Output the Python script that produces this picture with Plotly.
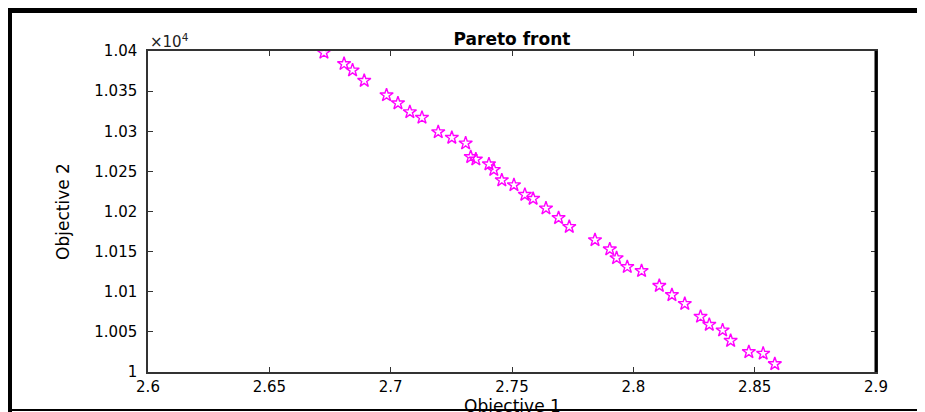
import plotly.graph_objects as go

# Pareto front points (Objective 1, Objective 2)
obj1 = [2.6725, 2.6808, 2.6843, 2.6891, 2.6983, 2.7030, 2.7079, 2.7129, 2.7196,
        2.7252, 2.7309, 2.7330, 2.7351, 2.7405, 2.7425, 2.7458, 2.7508, 2.7553,
        2.7587, 2.7640, 2.7692, 2.7736, 2.7842, 2.7903, 2.7931, 2.7975, 2.8034,
        2.8107, 2.8159, 2.8212, 2.8277, 2.8313, 2.8368, 2.8401, 2.8476, 2.8535,
        2.8583]
obj2 = [10398, 10384, 10376, 10363, 10345, 10335, 10324, 10317, 10299,
        10292, 10285, 10268, 10265, 10259, 10252, 10239, 10233, 10221,
        10216, 10204, 10192, 10181, 10164.5, 10153, 10142, 10131, 10126,
        10107.5, 10096, 10085, 10069, 10059, 10052, 10039, 10025, 10023,
        10010]

x_tickvals = [2.6, 2.65, 2.7, 2.75, 2.8, 2.85, 2.9]
x_ticktext = ["2.6", "2.65", "2.7", "2.75", "2.8", "2.85", "2.9"]
y_tickvals = [10000, 10050, 10100, 10150, 10200, 10250, 10300, 10350, 10400]
y_ticktext = ["1", "1.005", "1.01", "1.015", "1.02", "1.025", "1.03", "1.035", "1.04"]

OFF = 8  # page body margin offset
W, H = 925 - OFF, 412 - OFF
# plot area edges in reference-page pixels
RL, RR, RT, RB = 148, 876, 51, 372
L, R, T, B = RL - OFF, RR - OFF, RT - OFF, RB - OFF

def px_x(p):  # reference page pixel -> paper x
    return (p - OFF - L) / (R - L)

def px_y(p):  # reference page pixel -> paper y
    return (B - (p - OFF)) / (B - T)

FONT = "DejaVu Sans, Liberation Sans, Arial, sans-serif"

fig = go.Figure()
fig.add_trace(go.Scatter(
    x=obj1, y=obj2, mode="markers",
    marker=dict(symbol="star-open", size=10, color="#FF00FF",
                line=dict(color="#FF00FF", width=1.4)),
    showlegend=False, hoverinfo="x+y",
))

axis_common = dict(
    showgrid=False, zeroline=False, showline=True, linecolor="#333333",
    linewidth=1.5, ticks="inside", ticklen=5, tickwidth=1.2, tickcolor="#333333",
    mirror="ticks", automargin=False,
    tickfont=dict(family=FONT, size=15, color="black"),
)

fig.update_layout(
    width=W, height=H,
    margin=dict(l=L, r=W - R, t=T, b=H - B, autoexpand=False),
    paper_bgcolor="white", plot_bgcolor="white",
    title=dict(text="<b>Pareto front</b>", x=(L + R) / 2 / W, xanchor="center",
               y=(H - (39 - OFF)) / H, yanchor="middle", yref="container",
               font=dict(family=FONT, size=17, color="black")),
    xaxis=dict(range=[2.6, 2.9], tickvals=x_tickvals, ticktext=x_ticktext,
               ticklabelstandoff=0, **axis_common),
    yaxis=dict(range=[10000, 10400], tickvals=y_tickvals, ticktext=y_ticktext,
               title=dict(text="Objective 2", standoff=20,
                          font=dict(family=FONT, size=17, color="black")),
               ticklabelstandoff=6, **axis_common),
)

# x-axis title (placed as annotation so it can sit low, partly under the frame)
fig.add_annotation(text="Objective 1", xref="paper", yref="paper", x=0.5,
                   y=px_y(406), xanchor="center", yanchor="middle", showarrow=False,
                   font=dict(family=FONT, size=17, color="black"))

fig.add_annotation(text="×10<sup>4</sup>", xref="paper", yref="paper", x=0, y=1,
                   xanchor="left", yanchor="bottom", showarrow=False, yshift=-2,
                   font=dict(family=FONT, size=15, color="#222222"))

shapes = [
    # thick right axis edge
    dict(type="line", xref="paper", yref="paper", x0=1, x1=1, y0=0, y1=1,
         line=dict(color="black", width=3)),
    # outer figure frame
    dict(type="line", xref="paper", yref="paper", x0=px_x(9.5), x1=px_x(9.5),
         y0=px_y(8), y1=px_y(412), line=dict(color="black", width=5)),
    dict(type="line", xref="paper", yref="paper", x0=px_x(7), x1=px_x(922),
         y0=px_y(10.5), y1=px_y(10.5), line=dict(color="black", width=5)),
    dict(type="line", xref="paper", yref="paper", x0=px_x(919), x1=px_x(919),
         y0=px_y(8), y1=px_y(412), line=dict(color="black", width=4)),
    dict(type="line", xref="paper", yref="paper", x0=px_x(7), x1=px_x(922),
         y0=px_y(410), y1=px_y(410), line=dict(color="black", width=2)),
]
fig.update_layout(shapes=shapes)

fig.write_html("out.html")
